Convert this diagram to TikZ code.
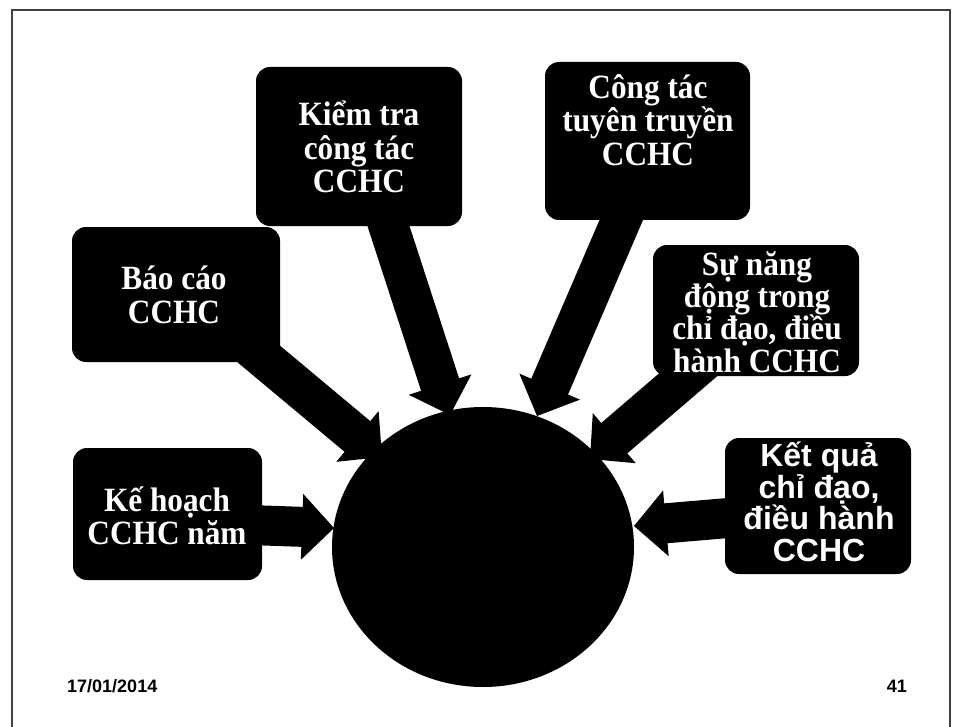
\documentclass[tikz,border=0pt]{standalone}
\usepackage{fontspec}
\setmainfont{Liberation Serif}
\newfontfamily\boxserif[FakeStretch=0.92]{Liberation Serif}
\newfontfamily\boxsans{Liberation Sans}
\usetikzlibrary{calc,shapes.geometric}
\begin{document}
\begin{tikzpicture}[x=1pt,y=-1pt,
  card/.style={draw=none,fill=black,rounded corners=14pt,inner sep=0pt},
  seriflabel/.style={text=white,align=center,inner sep=0pt,font=\boxserif\bfseries\fontsize{34}{33.5}\selectfont},
  sanslabel/.style={text=white,align=center,inner sep=0pt,font=\boxsans\bfseries\fontsize{32}{31.5}\selectfont},
  footer/.style={inner sep=0pt,font=\boxsans\bfseries\fontsize{18}{20}\selectfont},
  feed/.style={fill=black,draw=none},
]
\fill[white] (0,0) rectangle (957,727);
\useasboundingbox (0,0) rectangle (957,727);
\draw[black!75,line width=1.3pt] (12,727) -- (12,10) -- (950,10) -- (950,727);

% arrows (start inside the box, tip at the hub)
\coordinate (skh) at (250,525); \coordinate (tkh) at (334,528);
\coordinate (sbc) at (248,345); \coordinate (tbc) at (382,457);
\coordinate (skt) at (380,200); \coordinate (tkt) at (450,415);
\coordinate (sct) at (632,195); \coordinate (tct) at (537,416);
\coordinate (ssn) at (717,350); \coordinate (tsn) at (590,459);
\coordinate (skq) at (740,517); \coordinate (tkq) at (634,526);
\foreach \s/\t in {skh/tkh,sbc/tbc,skt/tkt,sct/tct,ssn/tsn,skq/tkq}{
  \coordinate (hb) at ($(\t)!32pt!(\s)$);
  \fill[feed] ($(\s)!20pt!90:(\t)$) -- ($(hb)!20pt!90:(\t)$) -- ($(hb)!33pt!90:(\t)$)
     -- (\t) -- ($(hb)!33pt!-90:(\t)$) -- ($(hb)!20pt!-90:(\t)$) -- ($(\s)!20pt!-90:(\t)$) -- cycle;
}

% centre
\node[ellipse,fill=black,minimum width=302pt,minimum height=280pt,inner sep=0pt] (hub) at (483,547) {};

% boxes
\node[card,minimum width=206pt,minimum height=159pt] (kt) at (359,146.5) {};
\node[card,minimum width=205pt,minimum height=158pt] (ct) at (647.5,141) {};
\node[card,minimum width=208pt,minimum height=135pt] (bc) at (176,294.5) {};
\node[card,minimum width=206pt,minimum height=131pt] (sn) at (756,310.5) {};
\node[card,minimum width=189pt,minimum height=132pt] (kh) at (167.5,514) {};
\node[card,minimum width=186pt,minimum height=136pt] (kq) at (818,506) {};

% texts
\node[seriflabel] (ktt) at (359,147) {Kiểm tra\\công tác\\CCHC};
\node[seriflabel] (ctt) at (648,120) {Công tác\\tuyên truyền\\CCHC};
\node[seriflabel] (bct) at (174,295) {Báo cáo\\CCHC};
\node[seriflabel,font=\boxserif\bfseries\fontsize{34}{32.3}\selectfont] (snt) at (757,312) {Sự năng\\động trong\\chỉ đạo, điều\\hành CCHC};
\node[seriflabel] (kht) at (167,516) {Kế hoạch\\CCHC năm};
\node[sanslabel] (kqt) at (819,502) {Kết quả\\chỉ đạo,\\điều hành\\CCHC};

% footer
\node[footer,anchor=base west] (date) at (67,692) {17/01/2014};
\node[footer,anchor=base east] (page) at (907,692) {41};
\end{tikzpicture}
\end{document}
